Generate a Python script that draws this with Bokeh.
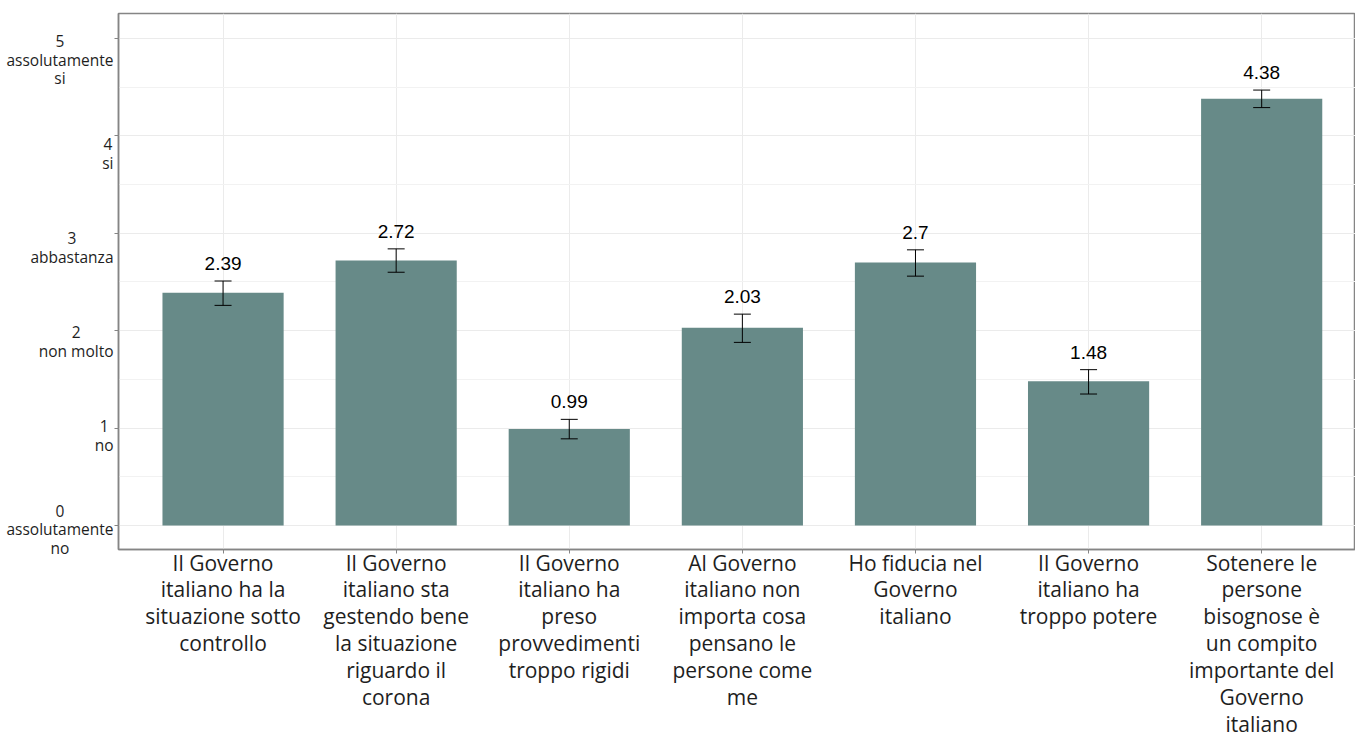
from bokeh.plotting import figure
from bokeh.layouts import row
from bokeh.models import ColumnDataSource, Whisker, FixedTicker, Range1d, TeeHead
from bokeh.embed import file_html
from bokeh.resources import INLINE
from bokeh.core.properties import value

categories = [
    "Il Governo\nitaliano ha la\nsituazione sotto\ncontrollo",
    "Il Governo\nitaliano sta\ngestendo bene\nla situazione\nriguardo il\ncorona",
    "Il Governo\nitaliano ha\npreso\nprovvedimenti\ntroppo rigidi",
    "Al Governo\nitaliano non\nimporta cosa\npensano le\npersone come\nme",
    "Ho fiducia nel\nGoverno\nitaliano",
    "Il Governo\nitaliano ha\ntroppo potere",
    "Sotenere le\npersone\nbisognose è\nun compito\nimportante del\nGoverno\nitaliano",
]
positions = [1, 2, 3, 4, 5, 6, 7]
means = [2.39, 2.72, 0.99, 2.03, 2.70, 1.48, 4.38]
lower = [2.26, 2.60, 0.89, 1.88, 2.56, 1.35, 4.29]
upper = [2.51, 2.84, 1.09, 2.17, 2.83, 1.60, 4.47]
value_labels = ["2.39", "2.72", "0.99", "2.03", "2.7", "1.48", "4.38"]
y_ticks = [0, 1, 2, 3, 4, 5]
y_minor = [0.5, 1.5, 2.5, 3.5, 4.5]
y_tick_labels = ["0\nassolutamente\nno", "1\nno", "2\nnon molto", "3\nabbastanza", "4\nsi", "5\nassolutamente\nsi"]

AX = "#858585"
TXT = "#1e1e1e"
LEFT_W = 114
TOTAL_W = 1355
TOTAL_H = 740

src = ColumnDataSource(dict(x=positions, mean=means, lower=lower, upper=upper, lab=value_labels))

p = figure(width=TOTAL_W - LEFT_W, height=TOTAL_H, output_backend="svg", toolbar_location=None,
           x_range=Range1d(0.396, 7.542), y_range=Range1d(-0.246, 5.256),
           min_border_left=4, min_border_right=0, min_border_top=13, min_border_bottom=190)
p.frame_align = False
p.background_fill_color = "white"
p.border_fill_color = "white"
p.outline_line_color = AX
p.outline_line_width = 1.5

p.vbar(x="x", top="mean", bottom=0, width=0.7, source=src, fill_color="#678a88", line_color=None)

w = Whisker(base="x", upper="upper", lower="lower", source=src, line_color="black", line_width=1,
            upper_head=TeeHead(size=17, line_color="black", line_width=1),
            lower_head=TeeHead(size=17, line_color="black", line_width=1),
            level="annotation")
p.add_layout(w)

p.text(x="x", y="upper", text="lab", source=src, text_align="center", text_baseline="bottom",
       y_offset=-11, text_font=value("Liberation Sans"), text_font_size="19px", text_color="black")

# x axis
xa = p.xaxis[0]
xa.ticker = FixedTicker(ticks=positions)
xa.major_label_overrides = {pos: lab for pos, lab in zip(positions, categories)}
xa.major_label_text_font = "Open Sans"
xa.major_label_text_font_size = "21px"
xa.major_label_text_line_height = 0.96
xa.major_label_text_color = TXT
xa.major_label_standoff = -5
xa.major_tick_in = 0
xa.major_tick_out = 4
xa.major_tick_line_color = AX
xa.minor_tick_line_color = None
xa.axis_line_color = AX
xa.axis_line_width = 1.5

# y axis: tick marks only (labels drawn in the side panel)
ya = p.yaxis[0]
ya.ticker = FixedTicker(ticks=y_ticks, minor_ticks=y_minor)
ya.major_label_text_font_size = "1px"
ya.major_label_text_color = None
ya.major_label_standoff = 0
ya.major_tick_in = 0
ya.major_tick_out = 4
ya.major_tick_line_color = AX
ya.minor_tick_line_color = None
ya.axis_line_color = AX
ya.axis_line_width = 1.5

p.xgrid.grid_line_color = "#ebebeb"
p.xgrid.ticker = FixedTicker(ticks=positions)
p.ygrid.grid_line_color = "#ebebeb"
p.ygrid.minor_grid_line_color = "#f2f2f2"
p.ygrid.ticker = FixedTicker(ticks=y_ticks, minor_ticks=y_minor)

# side panel with the y tick labels (multi-line, centred lines)
lsrc = ColumnDataSource(dict(y=y_ticks, lab=y_tick_labels, x=[LEFT_W - 1] * len(y_ticks)))
q = figure(width=LEFT_W, height=TOTAL_H, output_backend="svg", toolbar_location=None,
           x_range=Range1d(0, LEFT_W), y_range=Range1d(-2.245, 5.628),
           x_axis_location=None, y_axis_location=None,
           min_border_left=0, min_border_right=0, min_border_top=0, min_border_bottom=0)
q.frame_align = False
q.outline_line_color = None
q.grid.visible = False
q.text(x="x", y="y", text="lab", source=lsrc, anchor="center_right", text_align="center",
       text_font=value("Open Sans"), text_font_size="15.5px", text_line_height=0.86,
       text_color=TXT)

layout = row(q, p, spacing=0)
open("out.html", "w").write(file_html(layout, INLINE))
